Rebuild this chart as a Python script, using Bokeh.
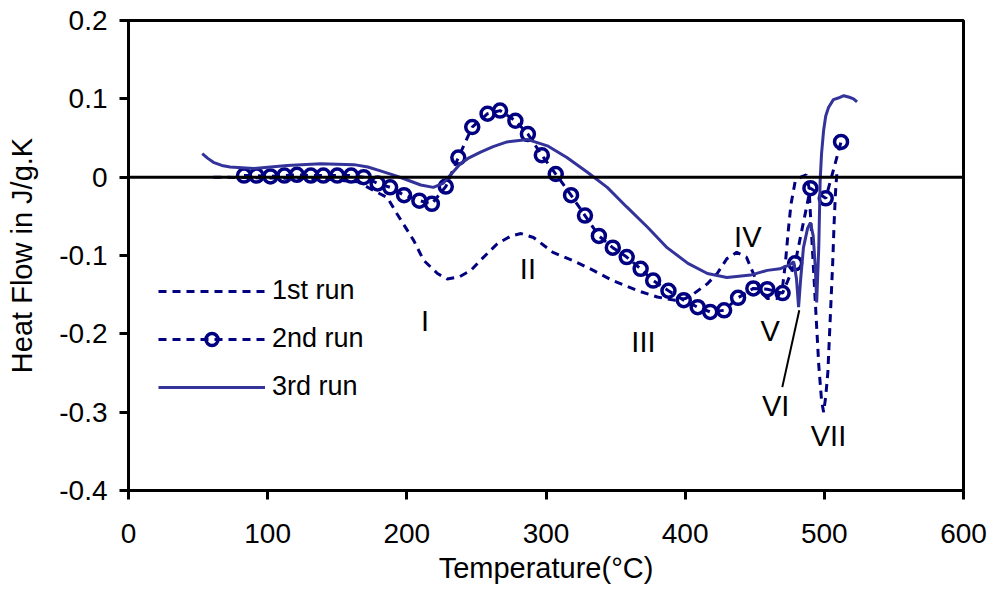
from bokeh.plotting import figure
from bokeh.models import Span, Legend, LegendItem, Range1d, FixedTicker, ColumnDataSource
from bokeh.core.properties import value
from bokeh.embed import file_html
from bokeh.resources import INLINE

# ---- data ----
T1 = [61, 100, 140, 165, 176, 186, 193, 205, 212, 222, 229, 238, 246, 253, 265, 275, 282, 291,
      305, 320, 334, 348, 366, 380, 392, 400, 406, 416, 423, 430, 437, 444, 449, 454, 459, 466,
      470, 472, 474, 476, 479, 483, 487, 489, 490, 492, 494, 496, 498, 499.5, 501, 502.5, 504,
      506, 507, 508, 509]
V1 = [0.0, -0.001, -0.002, -0.006, -0.017, -0.026, -0.047, -0.081, -0.106, -0.123, -0.130, -0.127,
      -0.119, -0.106, -0.085, -0.075, -0.072, -0.077, -0.096, -0.107, -0.119, -0.132, -0.145,
      -0.153, -0.157, -0.155, -0.149, -0.136, -0.123, -0.104, -0.096, -0.102, -0.123, -0.145,
      -0.155, -0.155, -0.140, -0.110, -0.070, -0.035, -0.006, 0.0, 0.003, -0.013, -0.047, -0.110,
      -0.175, -0.240, -0.285, -0.300, -0.280, -0.250, -0.190, -0.110, -0.060, -0.020, 0.005]

T2 = [83, 92, 102, 112, 121, 131, 140, 150, 160, 169, 179, 188, 198, 209, 218, 228, 237, 247,
      258, 267, 278, 287, 297, 307, 318, 328, 338, 348, 358, 368, 377, 388, 399, 409, 418, 428,
      438, 449, 459, 470, 479, 490, 501, 512]
V2 = [0.002, 0.002, 0.001, 0.002, 0.003, 0.002, 0.002, 0.002, 0.002, 0.0, -0.008, -0.013, -0.023,
      -0.030, -0.034, -0.012, 0.025, 0.064, 0.081, 0.085, 0.072, 0.055, 0.028, 0.004, -0.023,
      -0.049, -0.075, -0.090, -0.102, -0.117, -0.132, -0.145, -0.157, -0.166, -0.172, -0.170,
      -0.154, -0.142, -0.143, -0.148, -0.110, -0.014, -0.027, 0.045]

T3 = [53, 57, 61, 67, 73, 90, 114, 138, 162, 172, 181, 190, 198, 210, 219, 226, 231, 238.5, 245,
      253, 262, 272, 287, 301, 315, 330, 344, 358, 373, 387, 402, 416, 430, 447, 459, 468, 475,
      478, 480, 481.5, 483, 485, 488, 490, 492, 493.5, 494.5, 496, 497, 498, 499.5, 501, 503,
      506.5, 510, 514, 518, 521, 523.5]
V3 = [0.030, 0.024, 0.019, 0.015, 0.013, 0.011, 0.015, 0.017, 0.016, 0.013, 0.008, 0.003, -0.002,
      -0.010, -0.013, -0.008, 0.002, 0.017, 0.025, 0.032, 0.039, 0.045, 0.048, 0.040, 0.025,
      0.006, -0.013, -0.038, -0.064, -0.090, -0.110, -0.123, -0.128, -0.125, -0.119, -0.117,
      -0.112, -0.108, -0.130, -0.166, -0.130, -0.090, -0.065, -0.058, -0.075, -0.115, -0.160,
      -0.090, -0.004, 0.030, 0.060, 0.078, 0.089, 0.099, 0.101, 0.104, 0.102, 0.100, 0.096]

LABELS = ["I", "II", "III", "IV", "V", "VI", "VII"]
LABEL_T = [213, 287, 370, 445, 461, 465, 503]
LABEL_V = [-0.183, -0.117, -0.211, -0.076, -0.196, -0.292, -0.331]

POINTER_T = [469.8, 482]
POINTER_V = [-0.268, -0.170]

X_TICKS = [0, 100, 200, 300, 400, 500, 600]
Y_TICKS = [-0.4, -0.3, -0.2, -0.1, 0, 0.1, 0.2]
Y_TICK_LABELS = {-0.4: "-0.4", -0.3: "-0.3", -0.2: "-0.2", -0.1: "-0.1", 0: "0", 0.1: "0.1", 0.2: "0.2"}

NAVY = "#000080"
RUN3 = "#333399"
FONT = "Liberation Sans"

p = figure(width=990, height=592, output_backend="svg", toolbar_location=None,
           x_range=Range1d(0, 600), y_range=Range1d(-0.4, 0.2),
           min_border_left=128, min_border_right=27, min_border_top=20, min_border_bottom=102)
p.background_fill_color = "white"
p.border_fill_color = "white"
p.outline_line_color = "black"
p.outline_line_width = 3
p.grid.visible = False

for ax in (p.xaxis[0], p.yaxis[0]):
    ax.axis_line_width = 3
    ax.axis_line_color = "black"
    ax.major_tick_line_width = 3
    ax.major_tick_in = 0
    ax.major_tick_out = 9
    ax.minor_tick_line_color = None
    ax.major_label_text_font = FONT
    ax.major_label_text_font_size = "28px"
    ax.major_label_text_color = "black"
    ax.axis_label_text_font = FONT
    ax.axis_label_text_font_size = "29px"
    ax.axis_label_text_font_style = "normal"
    ax.axis_label_text_color = "black"

p.xaxis.ticker = FixedTicker(ticks=X_TICKS)
p.yaxis.ticker = FixedTicker(ticks=Y_TICKS)
p.yaxis.major_label_overrides = Y_TICK_LABELS
p.xaxis.axis_label = "Temperature(°C)"
p.yaxis.axis_label = "Heat Flow in J/g.K"
p.xaxis.major_label_standoff = 24
p.xaxis.axis_label_standoff = 6
p.yaxis.major_label_standoff = 12
p.yaxis.axis_label_standoff = 18

p.add_layout(Span(location=0, dimension="width", line_color="black", line_width=3))

r1 = p.line(T1, V1, line_color=NAVY, line_width=3, line_dash="8 6")
r2l = p.line(T2, V2, line_color=NAVY, line_width=3, line_dash="8 6")
r2m = p.scatter(T2, V2, marker="circle", size=13, line_color=NAVY, line_width=3.5, fill_color=None)
r3 = p.line(T3, V3, line_color=RUN3, line_width=3)

src = ColumnDataSource(dict(x=LABEL_T, y=LABEL_V, t=LABELS))
p.text(x="x", y="y", text="t", source=src, text_font=value(FONT), text_font_size="29px",
       text_align="center", text_baseline="middle", text_color="black")
p.line(POINTER_T, POINTER_V, line_color="black", line_width=2)

legend = Legend(items=[LegendItem(label="1st run", renderers=[r1]),
                       LegendItem(label="2nd run", renderers=[r2l, r2m]),
                       LegendItem(label="3rd run", renderers=[r3])],
                location=(30, 88), orientation="vertical")
legend.background_fill_alpha = 0
legend.border_line_color = None
legend.margin = 0
legend.padding = 0
legend.glyph_width = 107
legend.glyph_height = 30
legend.label_height = 30
legend.spacing = 17
legend.label_standoff = 7
legend.label_text_font = FONT
legend.label_text_font_size = "27px"
legend.label_text_color = "black"
p.add_layout(legend, "center")

open("out.html", "w").write(file_html(p, INLINE))
